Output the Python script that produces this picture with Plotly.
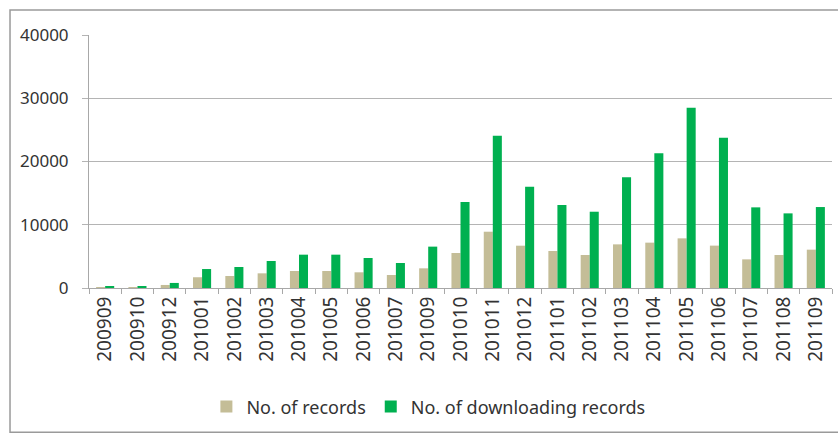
import plotly.graph_objects as go

# Monthly record counts, Sep 2009 - Sep 2011
months = ["200909", "200910", "200912", "201001", "201002", "201003", "201004",
          "201005", "201006", "201007", "201009", "201010", "201011", "201012",
          "201101", "201102", "201103", "201104", "201105", "201106", "201107",
          "201108", "201109"]
records = [100, 100, 480, 1700, 1900, 2320, 2690, 2690, 2480, 2060, 3110, 5530,
           8900, 6690, 5850, 5220, 6900, 7170, 7850, 6700, 4530, 5220, 6060]
downloads = [250, 200, 800, 3000, 3320, 4270, 5270, 5270, 4740, 3950, 6540, 13600,
             24080, 16020, 13120, 12060, 17500, 21300, 28500, 23760, 12750, 11800, 12800]

FONT = "Noto Sans"
TEXT = "#333333"
GRID = "#b4b4b4"

fig = go.Figure()
fig.add_trace(go.Bar(x=months, y=records, name="No. of records",
                     marker=dict(color="#C4BD97", line=dict(width=0))))
fig.add_trace(go.Bar(x=months, y=downloads, name="No. of downloading records",
                     marker=dict(color="#00B050", line=dict(width=0))))

fig.update_layout(
    width=838, height=436,
    margin=dict(l=89, r=6, t=35, b=148),
    paper_bgcolor="white", plot_bgcolor="white",
    barmode="group", bargap=0.44, bargroupgap=0,
    font=dict(family=FONT, color=TEXT),
    showlegend=True,
    legend=dict(orientation="h", x=0.158, xanchor="left", y=-0.47, yanchor="middle",
                font=dict(family=FONT, size=18, color=TEXT),
                itemwidth=30, bgcolor="rgba(0,0,0,0)", traceorder="normal"),
)

fig.update_yaxes(range=[0, 40000], dtick=10000, tickformat="d",
                 showgrid=True, gridcolor=GRID, gridwidth=1,
                 showline=True, linecolor="#a8a8a8", linewidth=1,
                 ticks="outside", ticklen=6, tickcolor=GRID,
                 ticklabelstandoff=10,
                 tickfont=dict(family=FONT, size=17, color=TEXT),
                 zeroline=False)

fig.update_xaxes(type="category", tickangle=-90, tickson="boundaries",
                 showline=True, linecolor="#a8a8a8", linewidth=1,
                 ticks="outside", ticklen=5, tickcolor="#a8a8a8",
                 tickfont=dict(family=FONT, size=19, color=TEXT),
                 showgrid=False)

# outer frame of the chart area
fig.add_shape(type="rect", xref="paper", yref="paper",
              x0=-0.1063, x1=1.05, y0=-0.57, y1=1.0988,
              line=dict(color="#9a9a9a", width=1.5), fillcolor="rgba(0,0,0,0)",
              layer="below")

fig.write_html("out.html")
